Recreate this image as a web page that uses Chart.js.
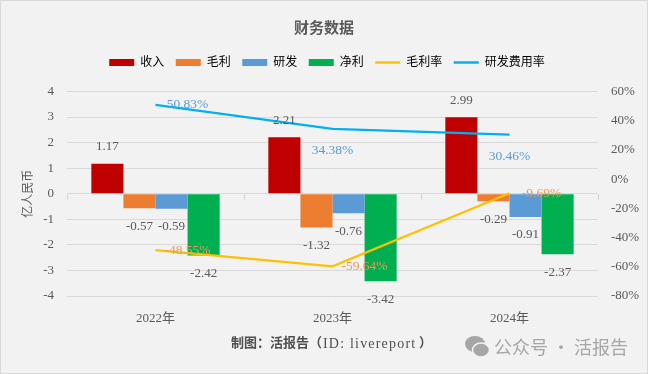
<!DOCTYPE html>
<html>
<head>
<meta charset="utf-8">
<script src="https://cdn.jsdelivr.net/npm/chart.js@4"></script>
<style>
html, body { margin: 0; padding: 0; background: #f2f2f2; }
canvas { display: block; }
</style>
</head>
<body>
<canvas id="financeChart" width="648" height="374"></canvas>
<script>
const categories = ["2022年", "2023年", "2024年"];
const revenue = [1.17, 2.21, 2.99];
const grossProfit = [-0.57, -1.32, -0.29];
const rd = [-0.59, -0.76, -0.91];
const netProfit = [-2.42, -3.42, -2.37];
const grossMargin = [-48.55, -59.64, -9.69];
const rdRatio = [50.83, 34.38, 30.46];

const grossMarginPlace = ["right", "right", "right"];
const rdRatioPlace = ["right", "below", "below"];

const fontFamily = '"Liberation Serif", "Noto Sans CJK SC", serif';
const textColor = "#595959";

const barLabels = [
    { index: 0, values: revenue },
    { index: 1, values: grossProfit },
    { index: 2, values: rd },
    { index: 3, values: netProfit },
];
const lineLabels = [
    { index: 4, values: grossMargin, place: grossMarginPlace, color: "#F0955A" },
    { index: 5, values: rdRatio, place: rdRatioPlace, color: "#5B9BD5" },
];

// value labels, footer, watermark and the zero axis ticks
const extras = {
    id: "extras",
    beforeInit(chart) {
        // extra room under the legend
        const fit = chart.legend.fit;
        chart.legend.fit = function () {
            fit.call(this);
            this.height += 13;
        };
    },
    afterLayout(chart) {
        chart.legend.left += 3;
        chart.legend.right += 3;
    },
    beforeDraw(chart) {
        const ctx = chart.ctx;
        ctx.save();
        ctx.fillStyle = "#f2f2f2";
        ctx.fillRect(0, 0, chart.width, chart.height);
        ctx.strokeStyle = "#d9d9d9";
        ctx.lineWidth = 2;
        ctx.strokeRect(0, 0, chart.width, chart.height);
        ctx.restore();
    },
    beforeDatasetsDraw(chart) {
        const ctx = chart.ctx;
        const x = chart.scales.x;
        const zero = Math.round(chart.scales.y.getPixelForValue(0)) + 0.5;
        const area = chart.chartArea;
        const step = (area.right - area.left) / categories.length;
        ctx.save();
        ctx.strokeStyle = "#d0d0d0";
        ctx.lineWidth = 1;
        ctx.beginPath();
        for (let i = 0; i <= categories.length; i++) {
            const px = Math.round(x.left + i * step) + 0.5;
            ctx.moveTo(px, zero);
            ctx.lineTo(px, zero + 5);
        }
        ctx.stroke();
        ctx.restore();
    },
    afterDatasetsDraw(chart) {
        const ctx = chart.ctx;
        ctx.save();
        ctx.textBaseline = "middle";
        ctx.textAlign = "center";
        ctx.font = "13px " + fontFamily;
        ctx.fillStyle = textColor;
        barLabels.forEach((s) => {
            chart.getDatasetMeta(s.index).data.forEach((el, i) => {
                const v = s.values[i];
                ctx.fillText(v.toFixed(2), el.x, v >= 0 ? el.y - 17 : el.y + 18);
            });
        });
        ctx.font = "13.5px " + fontFamily;
        lineLabels.forEach((s) => {
            ctx.fillStyle = s.color;
            chart.getDatasetMeta(s.index).data.forEach((el, i) => {
                const txt = s.values[i].toFixed(2) + "%";
                if (s.place[i] === "right") ctx.fillText(txt, el.x + 32, el.y);
                else ctx.fillText(txt, el.x, el.y + 22);
            });
        });

        ctx.fillStyle = "#505050";
        ctx.textAlign = "left";
        ctx.font = "bold 13px " + fontFamily;
        ctx.fillText("制图：活报告（", 231, 344);
        ctx.font = "14px " + fontFamily;
        ctx.letterSpacing = "1.2px";
        ctx.fillText("ID: livereport", 323, 344);
        ctx.letterSpacing = "0px";
        ctx.font = "bold 13px " + fontFamily;
        ctx.fillText("）", 419, 344);

        ctx.fillStyle = "#a6a6a6";
        ctx.font = '18px "Noto Sans CJK SC", sans-serif';
        ctx.fillText("公众号 · 活报告", 494, 347);
        ctx.beginPath();
        ctx.ellipse(475, 344, 10, 8, 0, 0, Math.PI * 2);
        ctx.fill();
        ctx.strokeStyle = "#f2f2f2";
        ctx.lineWidth = 1.5;
        ctx.beginPath();
        ctx.ellipse(481, 350, 8.5, 7, 0, 0, Math.PI * 2);
        ctx.fill();
        ctx.stroke();
        ctx.restore();
    },
};

new Chart(document.getElementById("financeChart"), {
    type: "bar",
    data: {
        labels: categories,
        datasets: [
            { label: "收入", data: revenue, backgroundColor: "#C00000", order: 2, pointStyle: "rect" },
            { label: "毛利", data: grossProfit, backgroundColor: "#ED7D31", order: 2, pointStyle: "rect" },
            { label: "研发", data: rd, backgroundColor: "#5B9BD5", order: 2, pointStyle: "rect" },
            { label: "净利", data: netProfit, backgroundColor: "#00B050", order: 2, pointStyle: "rect" },
            { type: "line", label: "毛利率", data: grossMargin, yAxisID: "y1", borderColor: "#FFC000", backgroundColor: "#FFC000", borderWidth: 2.25, pointRadius: 0, tension: 0, order: 1, pointStyle: "line" },
            { type: "line", label: "研发费用率", data: rdRatio, yAxisID: "y1", borderColor: "#00B0F0", backgroundColor: "#00B0F0", borderWidth: 2.25, pointRadius: 0, tension: 0, order: 1, pointStyle: "line" },
        ],
    },
    options: {
        responsive: false,
        animation: false,
        layout: { padding: { left: 0, right: 0, top: 20, bottom: 0 } },
        datasets: { bar: { barPercentage: 1, categoryPercentage: 0.725 } },
        plugins: {
            title: {
                display: true,
                text: "财务数据",
                color: textColor,
                font: { family: fontFamily, size: 15, weight: "bold" },
                padding: { top: 0, bottom: 7 },
            },
            legend: {
                position: "top",
                labels: {
                    usePointStyle: true,
                    pointStyleWidth: 25,
                    boxHeight: 7,
                    color: textColor,
                    font: { family: fontFamily, size: 12 },
                    padding: 11.5,
                    generateLabels(chart) {
                        return chart.data.datasets.map((d, i) => ({
                            text: d.label,
                            fillStyle: d.backgroundColor,
                            strokeStyle: d.backgroundColor,
                            lineWidth: d.type === "line" ? 2.5 : 0,
                            pointStyle: d.pointStyle,
                            datasetIndex: i,
                        }));
                    },
                },
            },
            tooltip: { enabled: false },
        },
        scales: {
            x: {
                grid: { display: false },
                border: { display: false },
                ticks: { color: textColor, font: { family: fontFamily, size: 13 }, padding: 7 },
                afterFit(s) { s.height = 78; },
            },
            y: {
                min: -4,
                max: 4,
                ticks: { stepSize: 1, color: textColor, font: { family: fontFamily, size: 13 }, padding: 13 },
                grid: { color: "#d9d9d9", drawTicks: false },
                border: { display: false },
                title: { display: true, text: "亿人民币", color: textColor, font: { family: fontFamily, size: 12 }, padding: { top: 22, bottom: 0 } },
                afterFit(s) { s.width = 67; },
            },
            y1: {
                position: "right",
                min: -80,
                max: 60,
                ticks: { stepSize: 20, color: textColor, font: { family: fontFamily, size: 13 }, padding: 13, callback: (v) => v + "%" },
                grid: { display: false, drawTicks: false },
                border: { display: false },
                afterFit(s) { s.width = 50; },
            },
        },
    },
    plugins: [extras],
});
</script>
</body>
</html>
